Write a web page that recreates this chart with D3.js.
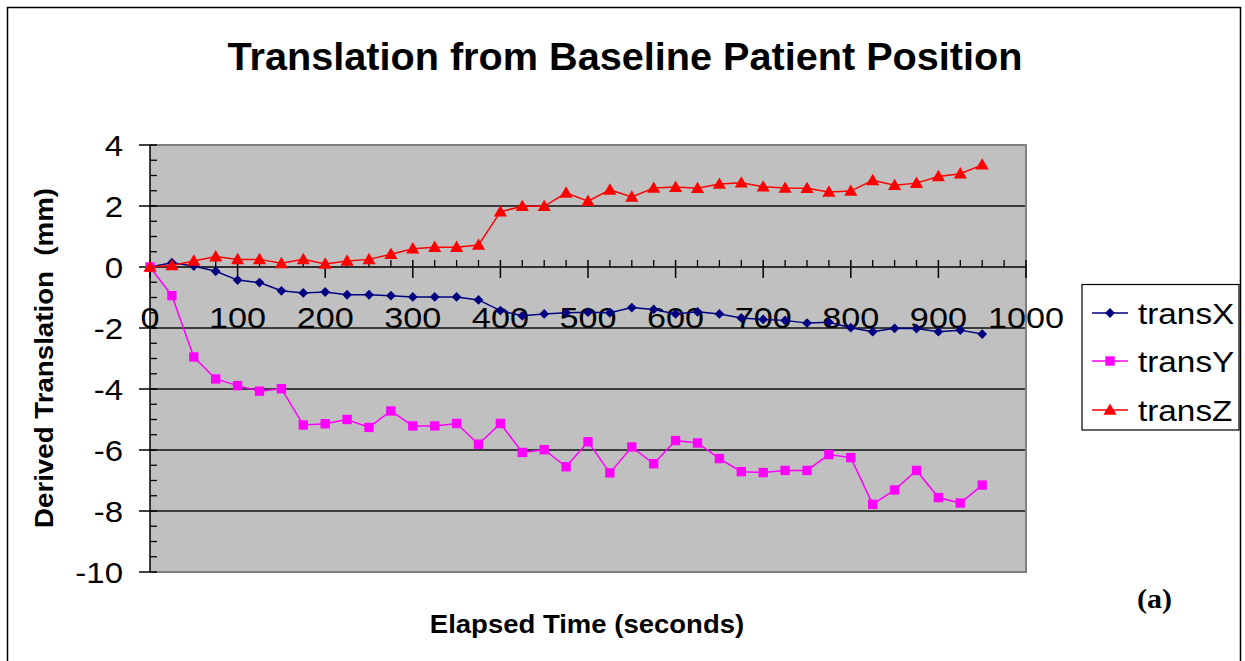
<!DOCTYPE html>
<html><head><meta charset="utf-8">
<script src="https://cdn.jsdelivr.net/npm/d3@7"></script>
<style>body{margin:0;background:#fff;}svg{display:block;font-family:"Liberation Sans",Arial,sans-serif;}text{white-space:pre;}</style>
</head><body><svg id="c" width="1245" height="661"></svg>
<script>
const times = d3.range(0, 951, 25);
const transX = [0,0.14,0.03,-0.14,-0.43,-0.51,-0.78,-0.85,-0.82,-0.91,-0.91,-0.94,-0.98,-0.98,-0.98,-1.08,-1.43,-1.6,-1.54,-1.5,-1.48,-1.5,-1.33,-1.39,-1.54,-1.47,-1.54,-1.67,-1.72,-1.75,-1.84,-1.81,-1.99,-2.12,-2.01,-2.02,-2.12,-2.07,-2.2];
const transY = [0,-0.94,-2.95,-3.67,-3.89,-4.07,-3.99,-5.18,-5.14,-5.0,-5.26,-4.72,-5.21,-5.21,-5.13,-5.81,-5.13,-6.08,-5.99,-6.55,-5.73,-6.75,-5.9,-6.45,-5.69,-5.77,-6.28,-6.71,-6.74,-6.67,-6.67,-6.15,-6.25,-7.78,-7.31,-6.67,-7.56,-7.74,-7.15];
const transZ = [0,0.05,0.2,0.34,0.25,0.25,0.12,0.25,0.1,0.2,0.25,0.42,0.6,0.65,0.65,0.72,1.81,1.99,1.99,2.43,2.16,2.53,2.3,2.59,2.62,2.58,2.72,2.76,2.63,2.59,2.58,2.46,2.49,2.84,2.68,2.75,2.97,3.06,3.35];
const seriesNames = ["transX","transY","transZ"];
const xTicks = [0,100,200,300,400,500,600,700,800,900,1000];
const yTicks = [4,2,0,-2,-4,-6,-8,-10];
const titleText = "Translation from Baseline Patient Position";
const xTitle = "Elapsed Time (seconds)";
const yTitle = "Derived Translation  (mm)";

const colors = {transX:"#000080", transY:"#FF00FF", transZ:"#FF0000"};
const symbols = {transX:d3.symbolSquare, transY:d3.symbolSquare, transZ:d3.symbolTriangle};
const symSize = {transX:48, transY:88, transZ:75};
const symRot = {transX:45, transY:0, transZ:0};
const data = {transX, transY, transZ};

const svg = d3.select("#c");
const L=150, R=1026, T=145, B=572;
const x = d3.scaleLinear().domain([0,1000]).range([L,R]);
const y = d3.scaleLinear().domain([-10,4]).range([B,T]);

function stretch(sel, k){
  sel.each(function(){ const w=this.getComputedTextLength(); d3.select(this).attr("textLength",w*k).attr("lengthAdjust","spacingAndGlyphs"); });
}

// outer frame
svg.append("rect").attr("x",7.5).attr("y",7.5).attr("width",1233).attr("height",680)
  .attr("fill","#fff").attr("stroke","#000").attr("stroke-width",1.5);

// title
svg.append("text").attr("x",625).attr("y",70).attr("text-anchor","middle")
  .attr("font-size",38).attr("font-weight","bold").text(titleText)
  .attr("textLength",795).attr("lengthAdjust","spacingAndGlyphs");

// plot area
svg.append("rect").attr("x",L).attr("y",T).attr("width",R-L).attr("height",B-T).attr("fill","#C0C0C0");
svg.append("g").selectAll("line").data(yTicks.filter(d=>d!==0 && d!==4 && d!==-10)).join("line")
  .attr("x1",L).attr("x2",R).attr("y1",d=>y(d)).attr("y2",d=>y(d))
  .attr("stroke","#111").attr("stroke-width",1.5);
svg.append("path").attr("d",`M${L},${T}H${R}V${B}H${L}`).attr("fill","none")
  .attr("stroke","#808080").attr("stroke-width",2);

// y axis
const yMinor = d3.range(-10,4.01,0.5).filter(v=>Math.abs(v%2)>0.01);
svg.append("g").selectAll("line").data(yMinor).join("line")
  .attr("x1",L).attr("x2",L+7).attr("y1",d=>y(d)).attr("y2",d=>y(d)).attr("stroke","#000").attr("stroke-width",1.3);
svg.append("g").selectAll("line").data(yTicks).join("line")
  .attr("x1",L-11).attr("x2",L+7).attr("y1",d=>y(d)).attr("y2",d=>y(d)).attr("stroke","#000").attr("stroke-width",1.5);
svg.append("line").attr("x1",L).attr("x2",L).attr("y1",T).attr("y2",B).attr("stroke","#000").attr("stroke-width",1.5);
svg.append("g").selectAll("text").data(yTicks).join("text")
  .attr("x",L-27).attr("y",d=>y(d)).attr("dy","0.36em").attr("text-anchor","end")
  .attr("font-size",30).text(d=>d).call(stretch,1.1);

// x axis at y=0
const y0 = y(0);
const xMinor = d3.range(0,1001,25).filter(v=>v%100!==0);
svg.append("line").attr("x1",L).attr("x2",R).attr("y1",y0).attr("y2",y0).attr("stroke","#000").attr("stroke-width",1.5);
svg.append("g").selectAll("line").data(xMinor).join("line")
  .attr("x1",d=>x(d)).attr("x2",d=>x(d)).attr("y1",y0-7).attr("y2",y0).attr("stroke","#000").attr("stroke-width",1.3);
svg.append("g").selectAll("line").data(xTicks).join("line")
  .attr("x1",d=>x(d)).attr("x2",d=>x(d)).attr("y1",y0-7).attr("y2",y0+11).attr("stroke","#000").attr("stroke-width",1.5);
svg.append("g").selectAll("text").data(xTicks).join("text")
  .attr("x",d=>x(d)).attr("y",328).attr("text-anchor","middle")
  .attr("font-size",30).text(d=>d).call(stretch,1.14);

// series
const line = d3.line().x((d,i)=>x(times[i])).y(d=>y(d));
seriesNames.forEach(n=>{
  const g = svg.append("g");
  g.append("path").attr("d",line(data[n])).attr("fill","none").attr("stroke",colors[n]).attr("stroke-width",1.5);
  g.selectAll("path.m").data(data[n]).join("path").attr("class","m")
    .attr("transform",(d,i)=>`translate(${x(times[i])},${y(d) + (n==="transZ"?1:0)}) rotate(${symRot[n]})`)
    .attr("d",d3.symbol(symbols[n],symSize[n])()).attr("fill",colors[n]);
});

// axis titles
svg.append("text").attr("x",587).attr("y",633).attr("text-anchor","middle")
  .attr("font-size",25).attr("font-weight","bold").text(xTitle).call(stretch,1.1);
svg.append("text").attr("transform","translate(53,358) rotate(-90)").attr("text-anchor","middle")
  .attr("font-size",25).attr("font-weight","bold").text(yTitle)
  .attr("textLength",340).attr("lengthAdjust","spacingAndGlyphs");

// legend
const lg = svg.append("g");
lg.append("rect").attr("x",1082).attr("y",284.5).attr("width",157).attr("height",145.5)
  .attr("fill","#fff").attr("stroke","#000").attr("stroke-width",1.2);
const ly = [313,361,410];
seriesNames.forEach((n,i)=>{
  lg.append("line").attr("x1",1092).attr("x2",1128).attr("y1",ly[i]).attr("y2",ly[i]).attr("stroke",colors[n]).attr("stroke-width",1.5);
  lg.append("path").attr("transform",`translate(1110,${ly[i]+(n==="transZ"?1:0)}) rotate(${symRot[n]})`)
    .attr("d",d3.symbol(symbols[n],symSize[n])()).attr("fill",colors[n]);
  lg.append("text").attr("x",1138).attr("y",ly[i]).attr("dy","0.36em").attr("font-size",30).text(n).call(stretch,1.11);
});

// panel label
svg.append("text").attr("x",1137).attr("y",608).attr("font-family","'Liberation Serif','Times New Roman',serif")
  .attr("font-size",27).attr("font-weight","bold").text("(a)")
  .attr("textLength",35).attr("lengthAdjust","spacingAndGlyphs");
</script></body></html>
